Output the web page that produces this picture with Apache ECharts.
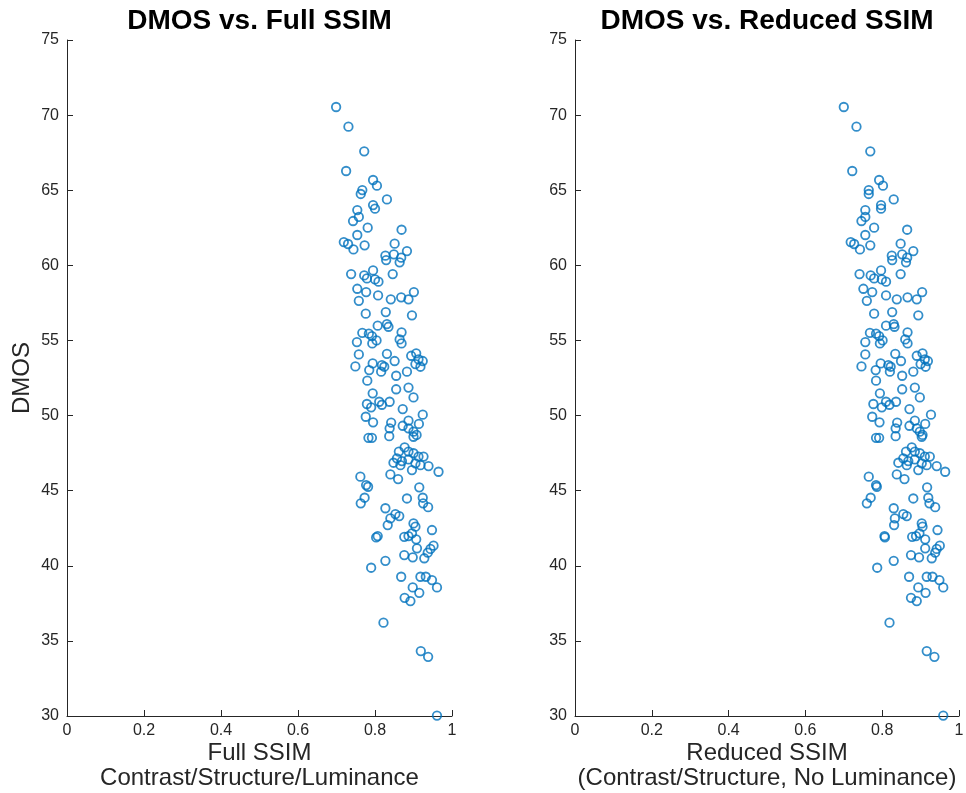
<!DOCTYPE html>
<html>
<head>
<meta charset="utf-8">
<script src="https://cdn.jsdelivr.net/npm/echarts@6/dist/echarts.min.js"></script>
<style>
  html, body { margin: 0; padding: 0; background: #fff; }
  #chart { width: 966px; height: 793px; }
</style>
</head>
<body>
<div id="chart"></div>
<script>
// DMOS score for each test image (shared by both panels)
const dmos = [
  70.54, 69.23, 67.59, 66.28, 65.68, 65.30, 65.01, 64.75, 64.39, 64.01,
  63.77, 63.68, 63.22, 62.95, 62.51, 62.37, 62.02, 61.55, 61.42, 61.06,
  61.33, 61.44, 60.95, 60.64, 60.35, 60.73, 60.51, 60.20, 59.42, 59.66,
  59.33, 59.13, 59.06, 58.91, 59.42, 58.44, 58.22, 58.00, 57.64, 57.74,
  57.87, 57.74, 58.22, 56.78, 56.89, 56.67, 55.98, 56.09, 55.91, 55.51,
  55.45, 55.29, 55.00, 54.89, 54.80, 55.54, 55.07, 54.80, 54.07, 54.11,
  53.98, 54.14, 53.74, 53.63, 53.43, 53.25, 53.63, 53.47, 53.36, 53.25,
  53.27, 53.03, 52.92, 52.92, 52.65, 52.32, 51.75, 51.86, 51.21, 51.48,
  50.77, 50.55, 50.92, 50.72, 50.92, 50.43, 50.06, 49.92, 49.55, 49.53,
  49.66, 49.44, 49.32, 49.15, 49.15, 48.93, 48.71, 48.59, 48.52, 48.52,
  48.63, 47.88, 47.60, 47.60, 47.49, 47.27, 47.27, 47.15, 46.97, 46.86,
  47.08, 46.82, 46.70, 46.64, 46.37, 46.26, 46.70, 45.93, 46.08, 45.77,
  45.37, 45.26, 45.22, 44.48, 44.53, 44.53, 44.16, 44.16, 43.90, 43.83,
  43.15, 43.44, 43.31, 42.71, 42.82, 42.60, 42.38, 41.98, 41.89, 41.93,
  41.98, 42.16, 41.76, 41.34, 41.12, 41.16, 40.87, 40.50, 40.71, 40.56,
  40.33, 39.87, 39.27, 39.27, 39.27, 39.05, 38.56, 38.56, 38.20, 37.87,
  37.65, 36.21, 34.32, 33.94, 30.03
];

// SSIM using contrast, structure and luminance terms
const fullSsim = [
  0.699, 0.731, 0.772, 0.725, 0.795, 0.805, 0.767, 0.763, 0.831, 0.795,
  0.800, 0.754, 0.758, 0.743, 0.781, 0.869, 0.754, 0.719, 0.730, 0.744,
  0.773, 0.851, 0.883, 0.827, 0.829, 0.849, 0.868, 0.864, 0.738, 0.795,
  0.772, 0.779, 0.800, 0.809, 0.846, 0.754, 0.777, 0.808, 0.758, 0.841,
  0.868, 0.887, 0.901, 0.776, 0.828, 0.896, 0.807, 0.831, 0.835, 0.767,
  0.784, 0.792, 0.804, 0.753, 0.793, 0.869, 0.864, 0.869, 0.758, 0.831,
  0.894, 0.907, 0.913, 0.924, 0.905, 0.918, 0.851, 0.794, 0.818, 0.824,
  0.749, 0.785, 0.816, 0.883, 0.855, 0.780, 0.855, 0.887, 0.900, 0.794,
  0.779, 0.790, 0.811, 0.818, 0.838, 0.872, 0.924, 0.776, 0.795, 0.842,
  0.887, 0.914, 0.872, 0.838, 0.887, 0.900, 0.908, 0.900, 0.783, 0.792,
  0.837, 0.877, 0.862, 0.887, 0.900, 0.913, 0.926, 0.857, 0.870, 0.848,
  0.887, 0.905, 0.918, 0.939, 0.896, 0.965, 0.866, 0.762, 0.840, 0.860,
  0.777, 0.782, 0.915, 0.883, 0.924, 0.773, 0.763, 0.925, 0.938, 0.827,
  0.840, 0.853, 0.863, 0.833, 0.900, 0.905, 0.948, 0.807, 0.803, 0.876,
  0.887, 0.896, 0.907, 0.952, 0.944, 0.909, 0.937, 0.928, 0.876, 0.898,
  0.827, 0.790, 0.868, 0.918, 0.932, 0.948, 0.961, 0.898, 0.915, 0.877,
  0.892, 0.822, 0.919, 0.938, 0.961
];

// SSIM using contrast and structure only
const reducedSsim = [
  0.700, 0.733, 0.769, 0.722, 0.792, 0.802, 0.765, 0.765, 0.830, 0.797,
  0.797, 0.756, 0.756, 0.746, 0.779, 0.865, 0.756, 0.718, 0.727, 0.742,
  0.769, 0.848, 0.881, 0.825, 0.826, 0.852, 0.865, 0.862, 0.741, 0.797,
  0.770, 0.779, 0.799, 0.810, 0.848, 0.751, 0.774, 0.810, 0.760, 0.838,
  0.866, 0.890, 0.904, 0.779, 0.826, 0.894, 0.810, 0.830, 0.832, 0.768,
  0.784, 0.792, 0.801, 0.756, 0.794, 0.866, 0.860, 0.866, 0.756, 0.834,
  0.890, 0.905, 0.911, 0.919, 0.900, 0.913, 0.849, 0.796, 0.816, 0.822,
  0.746, 0.783, 0.820, 0.881, 0.852, 0.784, 0.852, 0.885, 0.898, 0.794,
  0.777, 0.799, 0.810, 0.819, 0.836, 0.871, 0.927, 0.774, 0.793, 0.839,
  0.885, 0.912, 0.871, 0.835, 0.890, 0.898, 0.905, 0.903, 0.784, 0.792,
  0.835, 0.877, 0.862, 0.885, 0.898, 0.911, 0.924, 0.855, 0.868, 0.842,
  0.885, 0.903, 0.916, 0.942, 0.894, 0.964, 0.864, 0.765, 0.838, 0.858,
  0.784, 0.786, 0.917, 0.881, 0.920, 0.770, 0.760, 0.923, 0.938, 0.830,
  0.833, 0.855, 0.864, 0.831, 0.903, 0.905, 0.944, 0.806, 0.807, 0.878,
  0.888, 0.897, 0.912, 0.950, 0.942, 0.912, 0.938, 0.929, 0.875, 0.896,
  0.830, 0.787, 0.870, 0.916, 0.931, 0.949, 0.959, 0.894, 0.913, 0.875,
  0.890, 0.819, 0.916, 0.936, 0.959
];

const panelTitles = ['DMOS vs. Full SSIM', 'DMOS vs. Reduced SSIM'];
const xNames = [
  'Full SSIM\nContrast/Structure/Luminance',
  'Reduced SSIM\n(Contrast/Structure, No Luminance)'
];
const yName = 'DMOS';

const FONT = '"Liberation Sans", Arial, Helvetica, sans-serif';
const AXIS = '#262626';
const BLUE = '#0072BD';

const grids = [
  { left: 67, top: 40, width: 385, height: 676, outerBoundsMode: 'none' },
  { left: 575, top: 40, width: 384, height: 676, outerBoundsMode: 'none' }
];

function xAxisFor(i) {
  return {
    gridIndex: i, type: 'value', min: 0, max: 1, interval: 0.2,
    name: xNames[i], nameLocation: 'middle', nameGap: 25, nameMoveOverlap: false,
    nameTextStyle: { fontFamily: FONT, fontSize: 24, color: AXIS, lineHeight: 25 },
    axisLine: { show: true, lineStyle: { color: AXIS, width: 1 } },
    axisTick: { show: true, inside: true, length: 6, lineStyle: { color: AXIS } },
    axisLabel: { fontFamily: FONT, fontSize: 16, color: AXIS, margin: 7,
      formatter: v => String(+v.toFixed(1)) },
    splitLine: { show: false }
  };
}

function yAxisFor(i) {
  return {
    gridIndex: i, type: 'value', min: 30, max: 75, interval: 5,
    name: i === 0 ? yName : '', nameLocation: 'middle', nameGap: 33, nameRotate: 90,
    nameMoveOverlap: false,
    nameTextStyle: { fontFamily: FONT, fontSize: 24, color: AXIS },
    axisLine: { show: true, lineStyle: { color: AXIS, width: 1 } },
    axisTick: { show: true, inside: true, length: 6, lineStyle: { color: AXIS } },
    axisLabel: { fontFamily: FONT, fontSize: 16, color: AXIS, margin: 8 },
    splitLine: { show: false }
  };
}

function seriesFor(i, xs) {
  return {
    type: 'scatter', xAxisIndex: i, yAxisIndex: i,
    data: xs.map((x, k) => [x, dmos[k]]),
    symbol: 'circle', symbolSize: 8.5,
    itemStyle: { color: 'rgba(0,0,0,0)', borderColor: BLUE, borderWidth: 1.8 },
    emphasis: { disabled: true },
    animation: false
  };
}

const chart = echarts.init(document.getElementById('chart'), null, { renderer: 'canvas' });
chart.setOption({
  backgroundColor: '#ffffff',
  animation: false,
  title: [0, 1].map(i => ({
    text: panelTitles[i],
    left: grids[i].left + grids[i].width / 2,
    top: 7,
    padding: 0,
    textAlign: 'center',
    textStyle: { fontFamily: FONT, fontSize: 28, fontWeight: 'bold', color: '#000' }
  })),
  grid: grids,
  xAxis: [xAxisFor(0), xAxisFor(1)],
  yAxis: [yAxisFor(0), yAxisFor(1)],
  series: [seriesFor(0, fullSsim), seriesFor(1, reducedSsim)]
});
</script>
</body>
</html>
